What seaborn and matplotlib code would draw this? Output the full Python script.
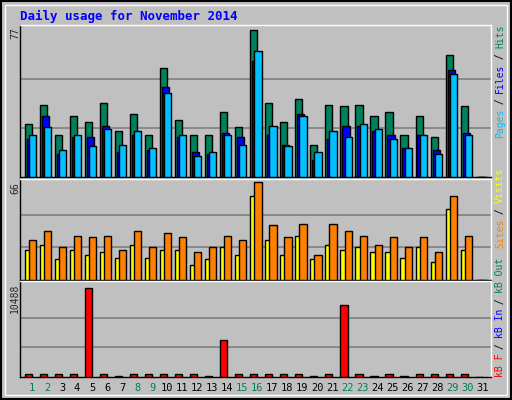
import numpy as np
import matplotlib
matplotlib.use("Agg")
import matplotlib.pyplot as plt
import seaborn as sns

days = list(range(1, 32))
hits  = [28,38,22,32,29,39,24,33,22,57,30,22,22,34,26,77,39,29,41,17,38,37,38,32,34,22,32,21,64,37,0]
files = [20,32,12,21,21,27,13,22,14,47,21,13,12,23,21,61,22,17,33,9,20,27,27,24,22,15,22,14,56,23,0]
pages = [22,26,14,22,16,25,17,24,15,44,22,11,13,22,17,66,27,16,32,13,24,21,28,25,20,15,22,12,54,22,0]
sites = [27,33,22,30,29,30,20,33,22,32,29,19,22,30,27,66,37,29,38,17,38,33,30,24,29,22,29,19,57,30,0]
visits= [20,24,14,20,17,19,15,24,15,20,20,10,14,22,17,57,27,17,30,14,24,20,22,19,19,15,22,12,48,20,0]
kbf   = [300,380,300,300,10488,300,100,300,300,300,300,300,100,4386,380,380,380,300,300,100,300,8505,300,100,300,100,300,300,380,300,0]
weekend = [1,2,8,9,15,16,22,23,29,30]

sns.set_style("white")
plt.rcParams['font.family'] = ['DejaVu Sans Mono']
GRAY = "#C0C0C0"
fig = plt.figure(figsize=(5.12, 4.0), dpi=100, facecolor=GRAY)
W, H = 512, 400

def mkax(top, bottom):
    ax = fig.add_axes([20/W, 1-bottom/H, 471/W, (bottom-top)/H])
    ax.set_facecolor(GRAY)
    ax.set_xlim(0.5, 31.88)
    for s in ax.spines.values():
        s.set_color("black"); s.set_linewidth(1)
    ax.spines['top'].set_color("white"); ax.spines['right'].set_color("white")
    ax.set_xticks([]); ax.set_yticks([])
    return ax

d = np.array(days, dtype=float)
def bars(ax, x, y, color, w=0.47):
    sns.barplot(x=x, y=y, native_scale=True, width=w, color=color, saturation=1,
                edgecolor="black", linewidth=1, ax=ax, zorder=3)

ax1 = mkax(25, 177)
m = 77
for g in (m/3, 2*m/3):
    ax1.axhline(g, color="#808080", lw=1.2, zorder=1)
bars(ax1, d+0.085, hits, "#00805C")
bars(ax1, d+0.218, files, "#0000FF")
bars(ax1, d+0.355, pages, "#00C0FF")
ax1.set_ylim(0, m*1.035)

ax2 = mkax(179, 280)
m = 66
for g in (m/3, 2*m/3):
    ax2.axhline(g, color="#808080", lw=1.2, zorder=1)
bars(ax2, d+0.085, visits, "#FFFF00")
bars(ax2, d+0.355, sites, "#FF8000")
ax2.set_ylim(0, m*1.035)

ax3 = mkax(281, 377)
m = 10488
for g in (m/3, 2*m/3):
    ax3.axhline(g, color="#808080", lw=1.2, zorder=1)
bars(ax3, d+0.085, kbf, "#FF0000")
ax3.set_ylim(0, m*1.08)

for a in (ax1, ax2, ax3):
    a.set_xlabel(""); a.set_ylabel("")

fig.text(20/W, 1-16/H, "Daily usage for November 2014", color="#0000FF",
         fontsize=9, fontweight="bold", va="center", ha="left")
for lbl, y in (("77", 33), ("66", 188), ("10488", 298)):
    fig.text(15/W, 1-y/H, lbl, rotation=90, fontsize=7, ha="center", va="center")
for i in days:
    fig.text((20+(i-0.5+0.3)*15.0- 0.5*15 + 7.5)/W if False else (20 + (i + 0.3 - 0.5)*471/31.38)/W,
             1-388/H, str(i), fontsize=7.5, ha="center", va="center",
             color="#00805C" if i in weekend else "black")

def vlabel(parts, ybottom, x=500):
    y = ybottom
    cw = 5.6
    for txt, col in parts:
        fig.text(x/W, 1-y/H, txt, rotation=90, color=col, fontsize=7,
                 ha="center", va="bottom")
        y -= cw*len(txt)

vlabel([("Pages", "#00C0FF"), (" / ", "black"), ("Files", "#0000FF"), (" / ", "black"), ("Hits", "#00805C")], 138)
vlabel([("Sites", "#FF8000"), (" / ", "black"), ("Visits", "#FFFF00")], 248)
vlabel([("kB F", "#FF0000"), (" / ", "black"), ("kB In", "#0000FF"), (" / ", "black"), ("kB Out", "#00805C")], 377)

# frame
fig.patches.append(plt.Rectangle((0.002, 0.002), 0.996, 0.996, transform=fig.transFigure,
                                 fill=False, edgecolor="black", lw=1.5))
fig.patches.append(plt.Rectangle((5/W, 5/H), 1-10/W, 1-10/H, transform=fig.transFigure,
                                 fill=False, edgecolor="white", lw=1))
fig.savefig("out.png", dpi=100, facecolor=GRAY)
